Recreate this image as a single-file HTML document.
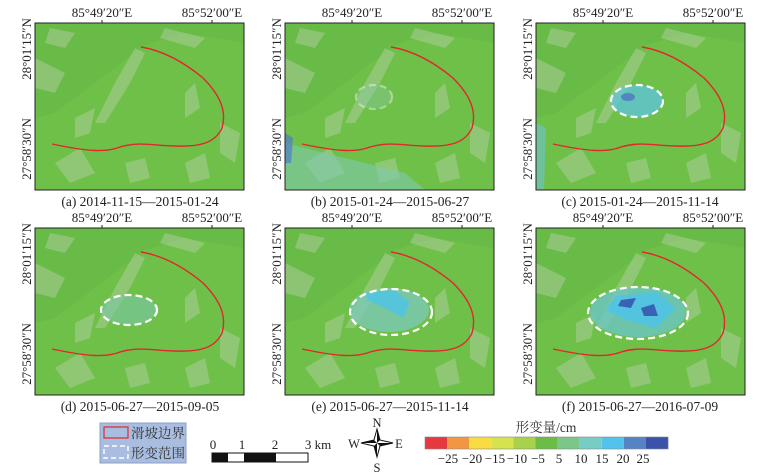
<!DOCTYPE html>
<html><head><meta charset="utf-8"><style>
body{margin:0;background:#fff;}
svg{display:block;font-family:"Liberation Serif","Noto Serif CJK SC",serif;}
</style></head><body>
<svg width="761" height="472" viewBox="0 0 761 472" xmlns="http://www.w3.org/2000/svg">
<defs>
<g id="base">
  <rect x="0" y="0" width="209" height="167" fill="#6fc049"/>
  <path d="M0 0 L209 0 L209 20 L150 10 L110 22 L60 60 L20 90 L0 95Z" fill="#64b745" opacity="0.6"/>
  <g fill="#cfd6c8" opacity="0.35">
    <path d="M70 100 L95 60 L110 30 L100 25 L80 60 L60 100Z"/>
    <path d="M0 35 L30 50 L20 70 L0 65Z"/>
    <path d="M15 5 L40 10 L30 25 L10 20Z"/>
    <path d="M130 5 L170 15 L160 25 L125 15Z"/>
    <path d="M150 70 L160 60 L165 85 L150 95Z"/>
    <path d="M20 140 L45 125 L60 150 L35 160Z"/>
    <path d="M150 140 L170 130 L175 155 L155 160Z"/>
    <path d="M185 100 L205 110 L200 140 L185 130Z"/>
    <path d="M90 140 L110 135 L115 155 L95 160Z"/>
    <path d="M40 95 L60 85 L55 110 L40 115Z"/>
  </g>
</g>
<path id="red" d="M106 24 C130 28 150 40 168 55 C185 72 192 88 187 105 C180 120 165 124 140 123 C120 123 105 118 85 124 C70 130 50 128 17 121" fill="none" stroke="#e3262a" stroke-width="1.4"/>
<g id="ticks" font-size="13" fill="#222">
  <line x1="67" y1="0" x2="67" y2="-3" stroke="#222"/><line x1="177" y1="0" x2="177" y2="-3" stroke="#222"/>
  <text x="67" y="-6" text-anchor="middle">85°49′20″E</text>
  <text x="177" y="-6" text-anchor="middle">85°52′00″E</text>
  <text transform="translate(-4,26) rotate(-90)" text-anchor="middle">28°01′15″N</text>
  <text transform="translate(-4,126) rotate(-90)" text-anchor="middle">27°58′30″N</text>
</g>
</defs>

<g transform="translate(35,23)"><use href="#base"/><use href="#red"/><rect width="209" height="167" fill="none" stroke="#222"/><use href="#ticks"/></g>
<g transform="translate(285,23)"><use href="#base"/>
  <path d="M0 120 L60 135 L120 150 L140 167 L0 167Z" fill="#7fc8b8" opacity="0.55"/>
  <path d="M0 110 L8 115 L6 140 L0 140Z" fill="#4f7fc4" opacity="0.7"/>
  <use href="#red"/>
  <ellipse cx="89" cy="74" rx="18" ry="12" fill="#8ac8a8" opacity="0.4" stroke="#fff" stroke-width="2.2" stroke-dasharray="7,4"/>
  <rect width="209" height="167" fill="none" stroke="#222"/><use href="#ticks"/></g>
<g transform="translate(536,23)"><use href="#base"/>
  <path d="M0 100 L10 105 L8 167 L0 167Z" fill="#6ec3d0" opacity="0.6"/>
  <ellipse cx="101" cy="78" rx="26" ry="16" fill="#5dc4e0" opacity="0.75"/>
  <ellipse cx="92" cy="74" rx="7" ry="4" fill="#4a6ec2" opacity="0.7"/>
  <use href="#red"/>
  <ellipse cx="101" cy="78" rx="26" ry="16" fill="none" stroke="#fff" stroke-width="2.2" stroke-dasharray="7,4"/>
  <rect width="209" height="167" fill="none" stroke="#222"/><use href="#ticks"/></g>
<g transform="translate(35,228)"><use href="#base"/>
  <ellipse cx="94" cy="82" rx="28" ry="15" fill="#7cc6a8" opacity="0.6"/>
  <use href="#red"/>
  <ellipse cx="94" cy="82" rx="28" ry="15" fill="none" stroke="#fff" stroke-width="2.2" stroke-dasharray="7,4"/>
  <rect width="209" height="167" fill="none" stroke="#222"/><use href="#ticks"/></g>
<g transform="translate(285,228)"><use href="#base"/>
  <ellipse cx="104" cy="82" rx="40" ry="22" fill="#7cc8b4" opacity="0.8"/>
  <path d="M80 65 L110 62 L125 75 L118 90 L100 80 L82 72Z" fill="#4ec4e8" opacity="0.8"/>
  <use href="#red"/>
  <ellipse cx="106" cy="84" rx="41" ry="23" fill="none" stroke="#fff" stroke-width="2.2" stroke-dasharray="7,4"/>
  <rect width="209" height="167" fill="none" stroke="#222"/><use href="#ticks"/></g>
<g transform="translate(536,228)"><use href="#base"/>
  <ellipse cx="102" cy="84" rx="48" ry="25" fill="#6cc4c4" opacity="0.8"/>
  <path d="M80 68 L120 64 L140 80 L120 100 L90 92 L70 82Z" fill="#4ec4e8" opacity="0.85"/>
  <path d="M85 72 L100 70 L95 80 L82 78Z M105 80 L118 76 L122 88 L108 88Z" fill="#3a4fb0" opacity="0.85"/>
  <use href="#red"/>
  <ellipse cx="102" cy="85" rx="50" ry="26" fill="none" stroke="#fff" stroke-width="2.2" stroke-dasharray="7,4"/>
  <rect width="209" height="167" fill="none" stroke="#222"/><use href="#ticks"/></g>

<g font-size="13.5" fill="#222" text-anchor="middle">
  <text x="140" y="206">(a) 2014-11-15—2015-01-24</text>
  <text x="390" y="206">(b) 2015-01-24—2015-06-27</text>
  <text x="640" y="206">(c) 2015-01-24—2015-11-14</text>
  <text x="140" y="411">(d) 2015-06-27—2015-09-05</text>
  <text x="390" y="411">(e) 2015-06-27—2015-11-14</text>
  <text x="640" y="411">(f) 2015-06-27—2016-07-09</text>
</g>

<!-- legend -->
<rect x="100" y="423" width="86" height="40" fill="#a9bde0" stroke="#8aa0c8"/>
<rect x="104" y="427" width="24" height="11" fill="none" stroke="#e3262a" stroke-width="1.2"/>
<rect x="104" y="446" width="24" height="12" fill="none" stroke="#fff" stroke-width="1.4" stroke-dasharray="5,3"/>
<text x="131" y="438" font-size="13.5" fill="#333">滑坡边界</text>
<text x="131" y="458" font-size="13.5" fill="#333">形变范围</text>

<!-- scale bar -->
<g font-size="13" fill="#222" text-anchor="middle">
  <text x="213" y="449">0</text><text x="242" y="449">1</text><text x="275" y="449">2</text><text x="318" y="449">3 km</text>
</g>
<rect x="212" y="453" width="96" height="9" fill="#fff" stroke="#111"/>
<rect x="212" y="453" width="16" height="9" fill="#111"/>
<rect x="244" y="453" width="32" height="9" fill="#111"/>

<!-- compass -->
<g transform="translate(377,443)">
  <path d="M0 -14 L3 -3 L16 0 L3 3 L0 14 L-3 3 L-16 0 L-3 -3Z" fill="#fff" stroke="#111" stroke-width="1"/>
  <path d="M0 -14 L3 -3 L0 0Z M16 0 L3 3 L0 0Z M0 14 L-3 3 L0 0Z M-16 0 L-3 -3 L0 0Z" fill="#111"/>
  <g font-size="12.5" fill="#222" text-anchor="middle">
    <text x="0" y="-16">N</text><text x="0" y="29">S</text><text x="-23" y="5">W</text><text x="22" y="5">E</text>
  </g>
</g>

<!-- colorbar -->
<text x="546" y="432" font-size="13.5" fill="#333" text-anchor="middle">形变量/cm</text>
<g transform="translate(425,437)">
  <rect x="0" width="22.1" height="12" fill="#e8383f"/>
  <rect x="22.1" width="22.1" height="12" fill="#f39644"/>
  <rect x="44.2" width="22.1" height="12" fill="#f7dd43"/>
  <rect x="66.3" width="22.1" height="12" fill="#d6e34f"/>
  <rect x="88.4" width="22.1" height="12" fill="#a8d24b"/>
  <rect x="110.5" width="22.1" height="12" fill="#6cbd45"/>
  <rect x="132.6" width="22.1" height="12" fill="#7cc68a"/>
  <rect x="154.7" width="22.1" height="12" fill="#77cdc3"/>
  <rect x="176.8" width="22.1" height="12" fill="#52c4ec"/>
  <rect x="198.9" width="22.1" height="12" fill="#5583c4"/>
  <rect x="221" width="22.1" height="12" fill="#3a52a8"/>
  <rect width="243.1" height="12" fill="none" stroke="#888" stroke-width="0.6"/>
</g>
<g font-size="13" fill="#222" text-anchor="middle">
  <text x="448" y="463">−25</text><text x="472" y="463">−20</text><text x="495" y="463">−15</text>
  <text x="517" y="463">−10</text><text x="538" y="463">−5</text><text x="559" y="463">5</text>
  <text x="581" y="463">10</text><text x="602" y="463">15</text><text x="623" y="463">20</text><text x="643" y="463">25</text>
</g>
</svg>
</body></html>
